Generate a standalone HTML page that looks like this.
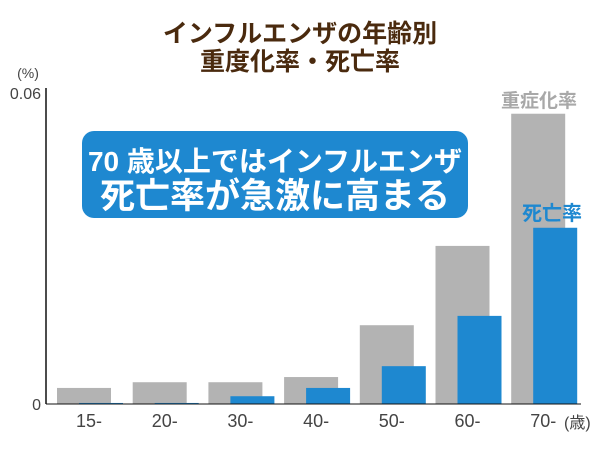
<!DOCTYPE html>
<html><head><meta charset="utf-8"><style>
body{margin:0;background:#fff;}
svg text{font-family:"Liberation Sans","Noto Sans CJK JP",sans-serif;}
</style></head><body>
<svg width="600" height="450" viewBox="0 0 600 450">
<text x="300" y="42" text-anchor="middle" font-size="25" font-weight="bold" fill="#4a2a0e">インフルエンザの年齢別</text>
<text x="300" y="70" text-anchor="middle" font-size="25" font-weight="bold" fill="#4a2a0e">重度化率・死亡率</text>
<text x="28" y="78" text-anchor="middle" font-size="14" fill="#444">(%)</text>
<g id="ticks"></g>
<g id="bars"></g>
<line x1="46" y1="88" x2="46" y2="404" stroke="#111" stroke-width="1.5"/>
<line x1="46" y1="404" x2="581" y2="404" stroke="#111" stroke-width="1"/>
<text x="564" y="428" font-size="16" fill="#444">(歳)</text>
<text x="539" y="107" text-anchor="middle" font-size="19" font-weight="bold" fill="#a8a8a8">重症化率</text>
<text x="552" y="220" text-anchor="middle" font-size="20" font-weight="bold" fill="#1e88d0">死亡率</text>
<rect x="82" y="131" width="386" height="87" rx="12" fill="#1e88d0"/>
<text x="275" y="171" text-anchor="middle" font-size="28" font-weight="bold" fill="#fff">70 歳以上ではインフルエンザ</text>
<text x="275" y="208" text-anchor="middle" font-size="35" font-weight="bold" fill="#fff">死亡率が急激に高まる</text>
</svg>
<script>
const categories=["15-","20-","30-","40-","50-","60-","70-"];
const severeRates=[0.0031,0.0042,0.0042,0.0052,0.0152,0.0305,0.056];
const deathRates=[0.0002,0.0002,0.0015,0.0031,0.0073,0.017,0.034];
const yTickLabels=["0","0.06"];
const yTickValues=[0,0.06];
const NS="http://www.w3.org/2000/svg";
const y0=404,yTop=93,yMax=0.06;
function yScale(v){return y0-(v/yMax)*(y0-yTop);}
function xGroup(i){return 57+i*75.7;}
const bars=document.getElementById('bars');
function rect(x,y,w,h,fill,name){
  const r=document.createElementNS(NS,'rect');
  r.setAttribute('x',x);r.setAttribute('y',y);r.setAttribute('width',w);r.setAttribute('height',Math.max(h,0));r.setAttribute('fill',fill);
  
  
  bars.appendChild(r);
}
categories.forEach((c,i)=>{
  const gx=xGroup(i);
  rect(gx,yScale(severeRates[i]),54,y0-yScale(severeRates[i]),'#b3b3b3','severe-bar-'+i);
  rect(gx+22,yScale(deathRates[i]),44,y0-yScale(deathRates[i]),'#1e88d0','death-bar-'+i);
  const t=document.createElementNS(NS,'text');
  t.setAttribute('x',gx+32);t.setAttribute('y',427);t.setAttribute('text-anchor','middle');
  t.setAttribute('font-size','18');t.setAttribute('fill','#444');
  
  
  t.textContent=c;bars.appendChild(t);
});
const ticks=document.getElementById('ticks');
yTickValues.forEach((v,i)=>{
  const t=document.createElementNS(NS,'text');
  t.setAttribute('x',41);t.setAttribute('y',yScale(v)+6);t.setAttribute('text-anchor','end');
  t.setAttribute('font-size','16');t.setAttribute('fill','#444');
  
  
  t.textContent=yTickLabels[i];ticks.appendChild(t);
});
</script>
</body></html>
